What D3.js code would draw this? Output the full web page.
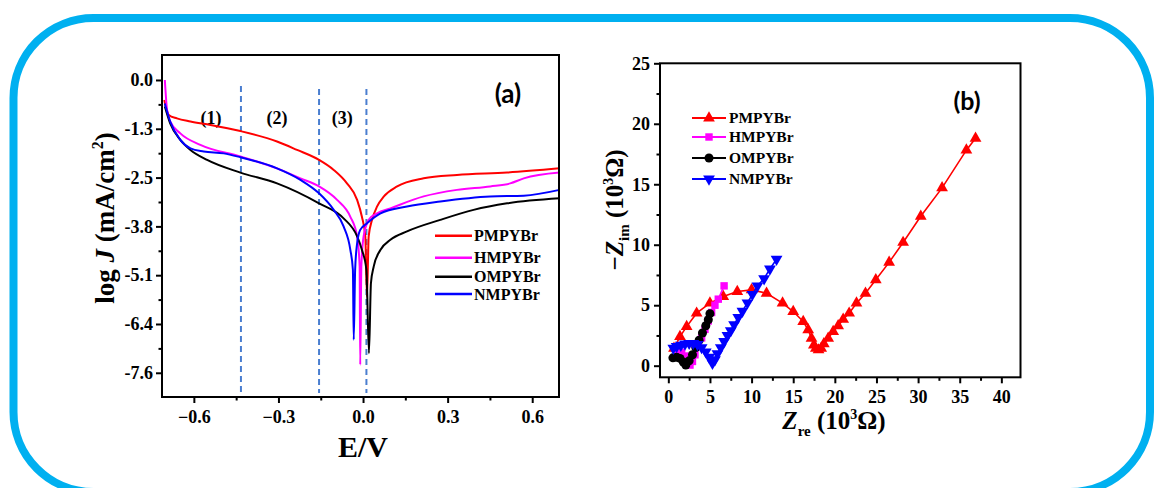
<!DOCTYPE html>
<html><head><meta charset="utf-8">
<script src="https://cdn.jsdelivr.net/npm/d3@7"></script>
<style>body{margin:0;background:#fff} svg{display:block}</style>
</head><body><svg id="c" width="1154" height="488"></svg>
<script>
// ---------- shared ----------
const seriesNames = ["PMPYBr", "HMPYBr", "OMPYBr", "NMPYBr"];
const seriesColors = ["#ff0000", "#ff00ff", "#000000", "#0000ff"];

// ---------- panel (a): Tafel curves [E (V), log J] ----------
const tafelPMPYBr = [[-0.705,-0.52],[-0.689,-0.91],[-0.660,-1.00],[-0.612,-1.08],[-0.541,-1.17],[-0.435,-1.33],[-0.305,-1.60],[-0.234,-1.82],[-0.156,-2.08],[-0.104,-2.34],[-0.057,-2.69],[-0.021,-3.12],[-0.004,-3.56],[0.008,-4.07],[0.014,-5.64],[0.020,-4.07],[0.032,-3.64],[0.050,-3.29],[0.074,-3.03],[0.121,-2.77],[0.215,-2.56],[0.333,-2.47],[0.511,-2.41],[0.697,-2.30]];
const tafelHMPYBr = [[-0.703,0.0],[-0.695,-0.78],[-0.684,-1.08],[-0.648,-1.39],[-0.577,-1.69],[-0.435,-1.99],[-0.305,-2.30],[-0.222,-2.56],[-0.156,-2.77],[-0.092,-3.12],[-0.045,-3.56],[-0.021,-4.07],[-0.012,-4.85],[-0.010,-7.41],[-0.006,-4.85],[0.002,-4.07],[0.020,-3.64],[0.050,-3.47],[0.097,-3.34],[0.215,-3.03],[0.333,-2.86],[0.451,-2.77],[0.522,-2.69],[0.570,-2.56],[0.697,-2.41]];
const tafelOMPYBr = [[-0.703,-0.69],[-0.684,-1.13],[-0.648,-1.56],[-0.612,-1.82],[-0.553,-2.08],[-0.435,-2.41],[-0.305,-2.69],[-0.156,-3.21],[-0.069,-3.60],[-0.021,-4.07],[-0.004,-4.42],[0.012,-4.94],[0.021,-7.11],[0.028,-5.29],[0.038,-4.85],[0.062,-4.42],[0.097,-4.16],[0.156,-3.94],[0.274,-3.64],[0.392,-3.38],[0.511,-3.21],[0.697,-3.08]];
const tafelNMPYBr = [[-0.703,-0.61],[-0.684,-1.08],[-0.648,-1.56],[-0.612,-1.78],[-0.565,-1.86],[-0.494,-1.91],[-0.435,-2.01],[-0.305,-2.30],[-0.222,-2.60],[-0.156,-2.95],[-0.104,-3.38],[-0.069,-3.81],[-0.045,-4.42],[-0.036,-4.94],[-0.033,-6.76],[-0.028,-4.94],[-0.021,-4.25],[-0.010,-3.90],[0.014,-3.73],[0.062,-3.47],[0.156,-3.29],[0.274,-3.16],[0.451,-3.03],[0.570,-3.01],[0.697,-2.86]];
const tafelSeries = [tafelPMPYBr, tafelHMPYBr, tafelOMPYBr, tafelNMPYBr];

const eTicks = [-0.6, -0.3, 0.0, 0.3, 0.6];
const eMinorTicks = [-0.45, -0.15, 0.15, 0.45];
const logJTicks = [0, -1.27, -2.54, -3.81, -5.08, -6.35, -7.62];
const logJTickLabels = ["0.0", "-1.3", "-2.5", "-3.8", "-5.1", "-6.4", "-7.6"];
const regionBounds = [-0.433, -0.156, 0.012];
const regionLabels = ["(1)", "(2)", "(3)"];
const regionLabelE = [-0.539, -0.305, -0.074];

// ---------- panel (b): Nyquist [Zre, -Zim] (10^3 ohm) ----------
const nyqPMPYBr = [[0.68,1.44],[1.40,2.40],[2.20,3.23],[3.40,4.34],[5.00,5.17],[6.60,5.72],[8.28,6.13],[10.0,6.27],[11.8,5.99],[13.72,5.17],[15.0,4.48],[16.2,3.65],[16.8,2.96],[17.2,2.27],[17.48,1.71],[17.72,1.44],[18.04,1.30],[18.36,1.44],[18.68,1.80],[19.2,2.27],[19.8,2.82],[20.4,3.29],[21.0,3.84],[21.72,4.34],[22.6,5.17],[23.68,5.99],[24.92,7.10],[26.52,8.54],[28.2,10.19],[30.32,12.35],[32.88,14.70],[35.8,17.82],[36.9,18.8]];
const nyqHMPYBr = [[1.2,1.3],[1.6,1.1],[2.0,0.8],[2.3,0.45],[2.6,0.05],[2.9,0.35],[3.2,0.9],[3.6,1.6],[4.0,2.3],[4.4,3.0],[4.8,3.7],[5.2,4.4],[5.6,5.0],[6.0,5.5],[6.7,6.6]];
const nyqOMPYBr = [[0.55,0.65],[1.0,0.7],[1.4,0.6],[1.8,0.3],[2.1,0.05],[2.5,0.4],[2.9,0.9],[3.3,1.5],[3.7,2.1],[4.1,2.7],[4.5,3.3],[4.8,3.8],[5.0,4.3]];
const nyqNMPYBr = [[0.6,1.45],[1.0,1.6],[1.5,1.7],[2.0,1.8],[2.5,1.85],[3.0,1.85],[3.5,1.75],[4.0,1.5],[4.5,1.15],[4.9,0.7],[5.3,0.2],[5.6,0.5],[5.9,1.0],[6.3,1.5],[6.7,2.0],[7.1,2.5],[7.5,2.9],[7.9,3.4],[8.4,4.0],[8.9,4.5],[9.5,5.2],[10.1,5.9],[10.7,6.6],[11.5,7.2],[12.2,8.0],[13.0,8.8]];
const nyqSeries = [nyqPMPYBr, nyqHMPYBr, nyqOMPYBr, nyqNMPYBr];
const nyqSymbols = [d3.symbolTriangle, d3.symbolSquare, d3.symbolCircle, d3.symbolTriangle];
const nyqSymbolRot = [0, 0, 0, 180];
const nyqSymbolSize = [60, 55, 64, 60];

const zReTicks = [0, 5, 10, 15, 20, 25, 30, 35, 40];
const zReMinorTicks = [2.5, 7.5, 12.5, 17.5, 22.5, 27.5, 32.5, 37.5, 42.5];
const zImTicks = [0, 5, 10, 15, 20, 25];
const zImMinorTicks = [2.5, 7.5, 12.5, 17.5, 22.5];

// ---------- drawing ----------
const svg = d3.select("#c");
const SERIF = "'Liberation Serif','Times New Roman',serif";

// rounded blue frame
svg.append("rect").attr("x", 13.5).attr("y", 18).attr("width", 1136.5).attr("height", 474)
  .attr("rx", 80).attr("ry", 80).attr("fill", "none").attr("stroke", "#00b0f0").attr("stroke-width", 8);

function styleAxis(g, fs) {
  g.select(".domain").remove();
  g.selectAll("line").attr("stroke", "#000").attr("stroke-width", 2);
  g.selectAll("text").attr("font-family", SERIF).attr("font-weight", "bold")
    .attr("font-size", fs).attr("fill", "#000");
}

// ===== Panel (a) =====
const xa = d3.scaleLinear().domain([-0.713, 0.695]).range([162, 559]);
const ya = d3.scaleLinear().domain([0.65, -8.25]).range([55, 397]);

const ga = svg.append("g");
ga.selectAll(".reg").data(regionBounds).join("line")
  .attr("x1", d => xa(d)).attr("x2", d => xa(d))
  .attr("y1", (d, i) => i === 0 ? 86 : 89).attr("y2", 393)
  .attr("stroke", "#4a7ed0").attr("stroke-width", 2).attr("stroke-dasharray", "6,4");

ga.selectAll(".rl").data(regionLabels).join("text")
  .attr("x", (d, i) => xa(regionLabelE[i])).attr("y", 124)
  .attr("text-anchor", "middle").attr("font-family", SERIF).attr("font-weight", "bold")
  .attr("font-size", 18).text(d => d);

const lineA = d3.line().x(d => xa(d[0])).y(d => ya(d[1])).curve(d3.curveMonotoneX);
ga.selectAll(".tafel").data(tafelSeries).join("path")
  .attr("d", d => lineA(d)).attr("fill", "none")
  .attr("stroke", (d, i) => seriesColors[i]).attr("stroke-width", 2);

const axA_x = ga.append("g").attr("transform", "translate(0,397)")
  .call(d3.axisBottom(xa).tickValues(eTicks).tickFormat(d3.format(".1f")).tickSize(6).tickPadding(7));
styleAxis(axA_x, 18);
const axA_xm = ga.append("g").attr("transform", "translate(0,397)")
  .call(d3.axisBottom(xa).tickValues(eMinorTicks).tickFormat("").tickSize(3.5));
styleAxis(axA_xm, 18);
const axA_y = ga.append("g").attr("transform", "translate(162,0)")
  .call(d3.axisLeft(ya).tickValues(logJTicks).tickFormat((d, i) => logJTickLabels[i]).tickSize(6).tickPadding(3));
styleAxis(axA_y, 18);
const minorJ = logJTicks.slice(1).map((d, i) => (d + logJTicks[i]) / 2);
const axA_ym = ga.append("g").attr("transform", "translate(162,0)")
  .call(d3.axisLeft(ya).tickValues(minorJ).tickFormat("").tickSize(3.5));
styleAxis(axA_ym, 18);

ga.append("rect").attr("x", 162).attr("y", 55).attr("width", 559 - 162).attr("height", 397 - 55)
  .attr("fill", "none").attr("stroke", "#000").attr("stroke-width", 2);

const ylabA = ga.append("text").attr("transform", "translate(114,218) rotate(-90)")
  .attr("text-anchor", "middle").attr("font-family", SERIF).attr("font-weight", "bold").attr("font-size", 27);
ylabA.append("tspan").text("log ");
ylabA.append("tspan").attr("font-style", "italic").text("J");
ylabA.append("tspan").text(" (mA/cm");
ylabA.append("tspan").attr("font-size", 16).attr("dy", -11).text("2");
ylabA.append("tspan").attr("dy", 11).text(")");

ga.append("text").attr("x", 363).attr("y", 457).attr("text-anchor", "middle")
  .attr("font-family", SERIF).attr("font-weight", "bold").attr("font-size", 30).text("E/V");

ga.append("text").attr("x", 508).attr("y", 103).attr("text-anchor", "middle")
  .attr("font-family", "Lato, 'Open Sans', sans-serif").attr("font-weight", "bold").attr("font-size", 26).text("(a)");

const legRowsA = [235.7, 257.7, 276.7, 294];
const legA = ga.selectAll(".legA").data(seriesNames).join("g")
  .attr("transform", (d, i) => `translate(0,${legRowsA[i]})`);
legA.append("line").attr("x1", 435).attr("x2", 472).attr("y1", 0).attr("y2", 0)
  .attr("stroke", (d, i) => seriesColors[i]).attr("stroke-width", 2.5);
legA.append("text").attr("x", 474).attr("y", 5.5).attr("font-family", SERIF).attr("font-weight", "bold")
  .attr("font-size", 16).text(d => d);

// ===== Panel (b) =====
const xb = d3.scaleLinear().domain([-1, 42.3]).range([660, 1020.5]);
const yb = d3.scaleLinear().domain([-0.96, 25]).range([377.3, 63.3]);
const gb = svg.append("g");

const axB_x = gb.append("g").attr("transform", "translate(0,377.3)")
  .call(d3.axisBottom(xb).tickValues(zReTicks).tickFormat(d3.format("d")).tickSize(6).tickPadding(7));
styleAxis(axB_x, 18);
const axB_xm = gb.append("g").attr("transform", "translate(0,377.3)")
  .call(d3.axisBottom(xb).tickValues(zReMinorTicks.filter(v => v < 42.3)).tickFormat("").tickSize(3.5));
styleAxis(axB_xm, 18);
const axB_y = gb.append("g").attr("transform", "translate(660,0)")
  .call(d3.axisLeft(yb).tickValues(zImTicks).tickFormat(d3.format("d")).tickSize(6).tickPadding(4));
styleAxis(axB_y, 18);
const axB_ym = gb.append("g").attr("transform", "translate(660,0)")
  .call(d3.axisLeft(yb).tickValues(zImMinorTicks).tickFormat("").tickSize(3.5));
styleAxis(axB_ym, 18);

gb.append("rect").attr("x", 660).attr("y", 63.3).attr("width", 1020.5 - 660).attr("height", 377.3 - 63.3)
  .attr("fill", "none").attr("stroke", "#000").attr("stroke-width", 2);

const lineB = d3.line().x(d => xb(d[0])).y(d => yb(d[1]));
nyqSeries.forEach((ser, i) => {
  const g = gb.append("g");
  g.append("path").attr("d", lineB(ser)).attr("fill", "none")
    .attr("stroke", seriesColors[i]).attr("stroke-width", 1.6);
  g.selectAll("path.m").data(ser).join("path").attr("class", "m")
    .attr("d", d3.symbol().type(nyqSymbols[i]).size(nyqSymbolSize[i]))
    .attr("transform", d => `translate(${xb(d[0])},${yb(d[1])}) rotate(${nyqSymbolRot[i]})`)
    .attr("fill", seriesColors[i]);
});

const ylabB = gb.append("text").attr("transform", "translate(623,210) rotate(-90)")
  .attr("text-anchor", "middle").attr("font-family", SERIF).attr("font-weight", "bold").attr("font-size", 25);
ylabB.append("tspan").text("\u2212");
ylabB.append("tspan").attr("font-style", "italic").text("Z");
ylabB.append("tspan").attr("font-size", 15).attr("dy", 6).text("im");
ylabB.append("tspan").attr("dy", -6).text(" (10");
ylabB.append("tspan").attr("font-size", 14).attr("dy", -10).text("3");
ylabB.append("tspan").attr("dy", 10).text("\u03A9)");

const xlabB = gb.append("text").attr("x", 834).attr("y", 429).attr("text-anchor", "middle")
  .attr("font-family", SERIF).attr("font-weight", "bold").attr("font-size", 25);
xlabB.append("tspan").attr("font-style", "italic").text("Z");
xlabB.append("tspan").attr("font-size", 15).attr("dy", 7).text("re");
xlabB.append("tspan").attr("dy", -7).text(" (10");
xlabB.append("tspan").attr("font-size", 14).attr("dy", -10).text("3");
xlabB.append("tspan").attr("dy", 10).text("\u03A9)");

gb.append("text").attr("x", 967).attr("y", 110).attr("text-anchor", "middle")
  .attr("font-family", "Lato, 'Open Sans', sans-serif").attr("font-weight", "bold").attr("font-size", 25).text("(b)");

const legRowsB = [118, 137, 158, 179];
const legB = gb.selectAll(".legB").data(seriesNames).join("g")
  .attr("transform", (d, i) => `translate(0,${legRowsB[i]})`);
legB.append("line").attr("x1", 692).attr("x2", 726).attr("y1", 0).attr("y2", 0)
  .attr("stroke", (d, i) => seriesColors[i]).attr("stroke-width", 2);
legB.append("path")
  .attr("d", (d, i) => d3.symbol().type(nyqSymbols[i]).size(nyqSymbolSize[i])())
  .attr("transform", (d, i) => `translate(709,0) rotate(${nyqSymbolRot[i]})`)
  .attr("fill", (d, i) => seriesColors[i]);
legB.append("text").attr("x", 729).attr("y", 5).attr("font-family", SERIF).attr("font-weight", "bold")
  .attr("font-size", 15.5).text(d => d);
</script></body></html>
